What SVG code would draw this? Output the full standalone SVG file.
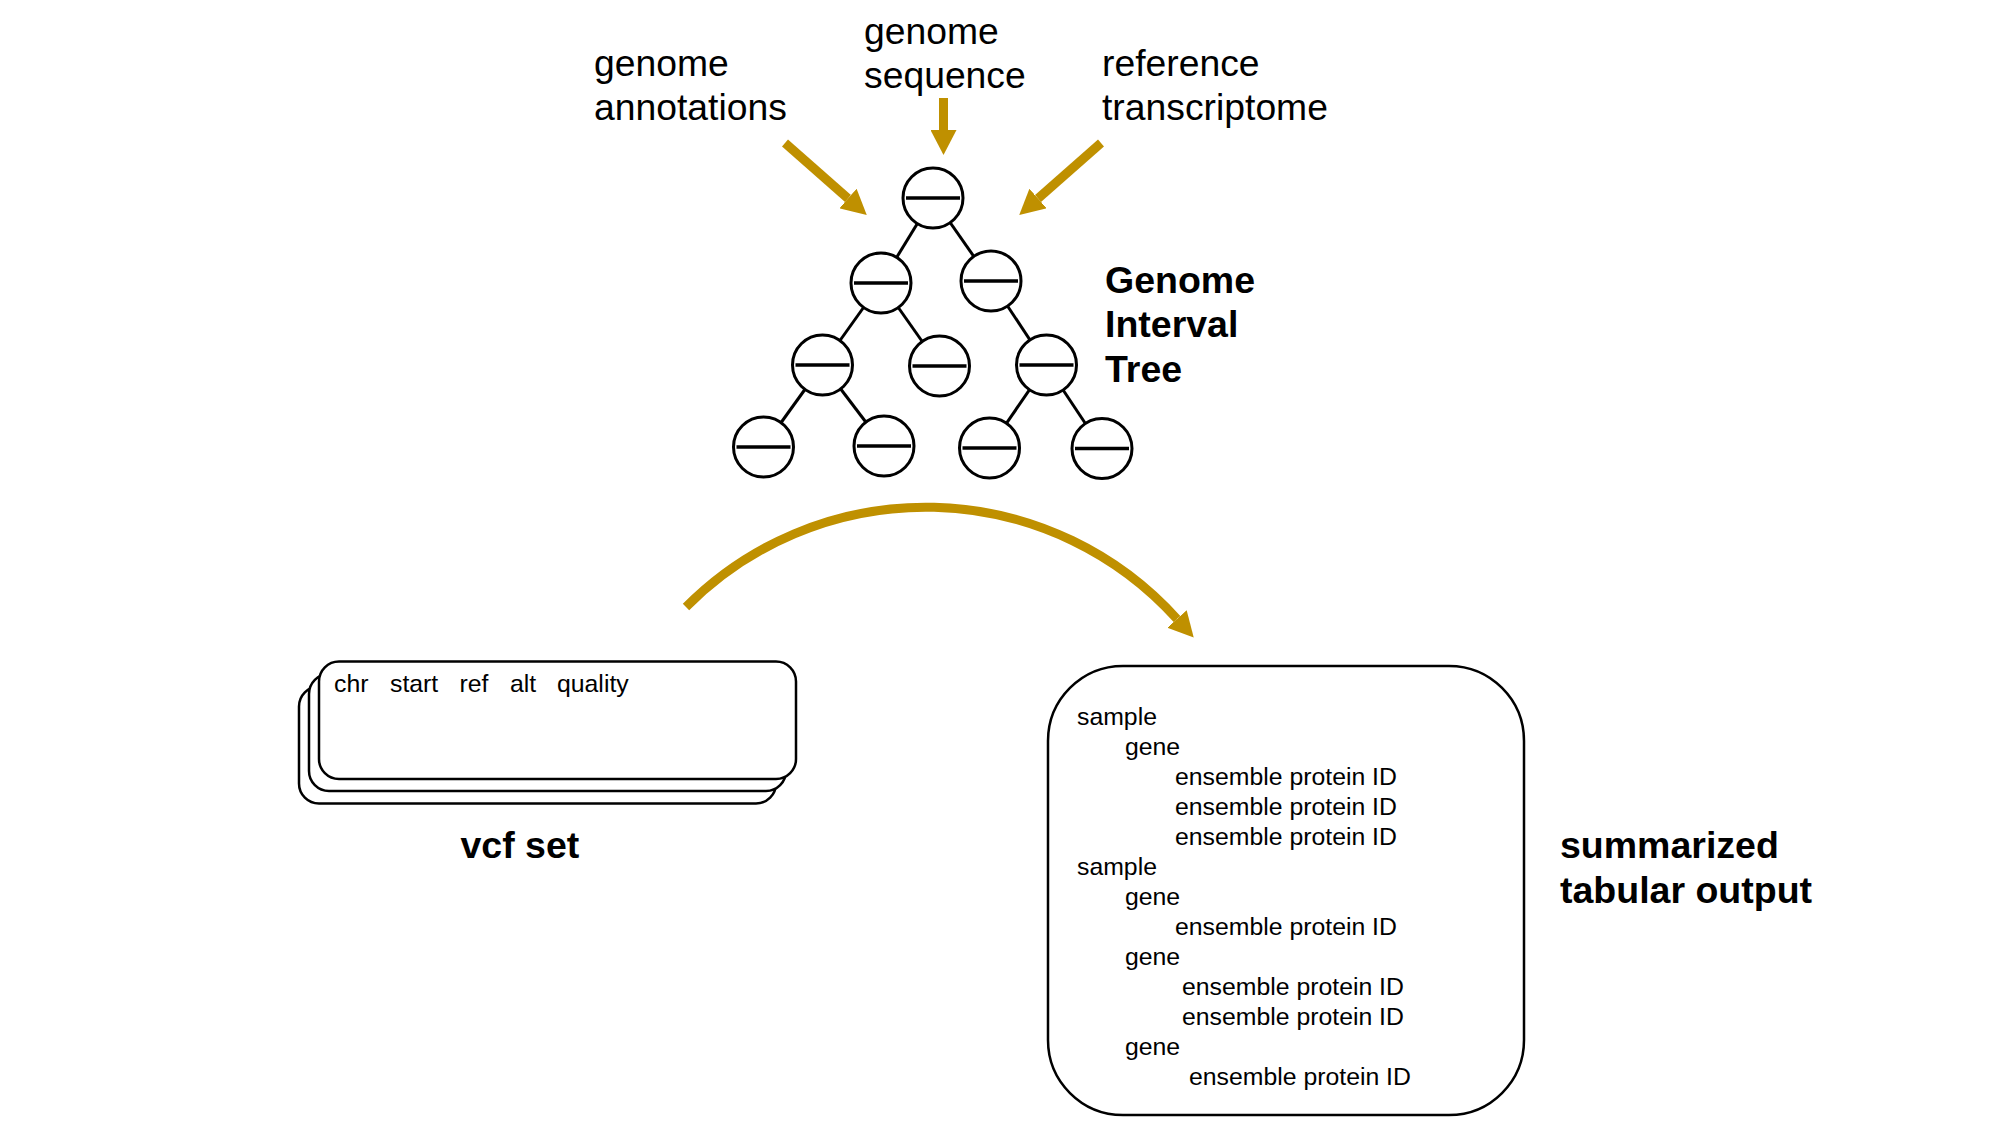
<svg xmlns="http://www.w3.org/2000/svg" width="2000" height="1125" viewBox="0 0 2000 1125">
  <defs>
    <style>
      .lbl { font-family: "Liberation Sans", Arial, Helvetica, sans-serif; font-size: 37.3px; fill: #000; }
      .bold { font-weight: bold; font-size: 37.5px; }
      .small { font-family: "Liberation Sans", Arial, Helvetica, sans-serif; font-size: 24.8px; fill: #000; }
      .gold { stroke: #BF9000; stroke-width: 9; fill: none; stroke-linecap: butt; }
      .edge { stroke: #000; stroke-width: 3; }
      .node circle { fill: #fff; stroke: #000; stroke-width: 3; }
      .node line { stroke: #000; stroke-width: 3.5; }
      .card { fill: #fff; stroke: #000; stroke-width: 2.5; }
    </style>
    <marker id="head" viewBox="0 0 25 26" markerWidth="25" markerHeight="26" refX="0" refY="13" orient="auto" markerUnits="userSpaceOnUse">
      <path d="M0,0 L25,13 L0,26 z" fill="#BF9000"/>
    </marker>
  </defs>
  <rect width="2000" height="1125" fill="#fff"/>

  <!-- input labels -->
  <g id="genome-annotations">
    <text class="lbl" x="594" y="76">genome</text>
    <text class="lbl" x="594" y="120">annotations</text>
  </g>
  <g id="genome-sequence">
    <text class="lbl" x="864" y="44">genome</text>
    <text class="lbl" x="864" y="88">sequence</text>
  </g>
  <g id="reference-transcriptome">
    <text class="lbl" x="1102" y="76">reference</text>
    <text class="lbl" x="1102" y="120">transcriptome</text>
  </g>

  <!-- connectors -->
  <g id="connectors">
    <line class="gold" x1="785" y1="143" x2="848" y2="198.5" marker-end="url(#head)"/>
    <line class="gold" x1="943.5" y1="98" x2="943.5" y2="130" marker-end="url(#head)"/>
    <line class="gold" x1="1101" y1="143" x2="1038" y2="198.5" marker-end="url(#head)"/>
    <path class="gold" d="M686,607 A338,338 0 0 1 1177,619" marker-end="url(#head)"/>
    <!-- tree edges -->
    <line class="edge" x1="933" y1="198" x2="881" y2="283"/>
    <line class="edge" x1="933" y1="198" x2="991" y2="281"/>
    <line class="edge" x1="881" y1="283" x2="822.5" y2="365"/>
    <line class="edge" x1="881" y1="283" x2="939.5" y2="366"/>
    <line class="edge" x1="991" y1="281" x2="1046.5" y2="365"/>
    <line class="edge" x1="822.5" y1="365" x2="763.5" y2="447"/>
    <line class="edge" x1="822.5" y1="365" x2="884" y2="446"/>
    <line class="edge" x1="1046.5" y1="365" x2="989.5" y2="448"/>
    <line class="edge" x1="1046.5" y1="365" x2="1102" y2="448.5"/>
  </g>

  <!-- interval tree nodes -->
  <g id="node-root" class="node"><circle cx="933" cy="198" r="30"/><line x1="906" y1="198" x2="960" y2="198"/></g>
  <g id="node-l1a" class="node"><circle cx="881" cy="283" r="30"/><line x1="854" y1="283" x2="908" y2="283"/></g>
  <g id="node-l1b" class="node"><circle cx="991" cy="281" r="30"/><line x1="964" y1="281" x2="1018" y2="281"/></g>
  <g id="node-l2a" class="node"><circle cx="822.5" cy="365" r="30"/><line x1="795.5" y1="365" x2="849.5" y2="365"/></g>
  <g id="node-l2b" class="node"><circle cx="939.5" cy="366" r="30"/><line x1="912.5" y1="366" x2="966.5" y2="366"/></g>
  <g id="node-l2c" class="node"><circle cx="1046.5" cy="365" r="30"/><line x1="1019.5" y1="365" x2="1073.5" y2="365"/></g>
  <g id="node-l3a" class="node"><circle cx="763.5" cy="447" r="30"/><line x1="736.5" y1="447" x2="790.5" y2="447"/></g>
  <g id="node-l3b" class="node"><circle cx="884" cy="446" r="30"/><line x1="857" y1="446" x2="911" y2="446"/></g>
  <g id="node-l3c" class="node"><circle cx="989.5" cy="448" r="30"/><line x1="962.5" y1="448" x2="1016.5" y2="448"/></g>
  <g id="node-l3d" class="node"><circle cx="1102" cy="448.5" r="30"/><line x1="1075" y1="448.5" x2="1129" y2="448.5"/></g>

  <g id="tree-label">
    <text class="lbl bold" x="1105" y="293">Genome</text>
    <text class="lbl bold" x="1105" y="337">Interval</text>
    <text class="lbl bold" x="1105" y="382">Tree</text>
  </g>

  <!-- stacked vcf files -->
  <g id="vcf-set">
    <rect class="card" x="299" y="686.5" width="477" height="117" rx="20"/>
    <rect class="card" x="309" y="674" width="477" height="117" rx="20"/>
    <rect class="card" x="319" y="661.5" width="477" height="117.5" rx="20"/>
    <text class="small" x="334" y="692">chr</text>
    <text class="small" x="390" y="692">start</text>
    <text class="small" x="459.5" y="692">ref</text>
    <text class="small" x="510" y="692">alt</text>
    <text class="small" x="557" y="692">quality</text>
    <text class="lbl bold" x="460.5" y="858">vcf set</text>
  </g>

  <!-- summarized output -->
  <g id="summary-output">
    <rect class="card" x="1048" y="666" width="476" height="449" rx="75"/>
    <text class="small" x="1077" y="724.5">sample</text>
    <text class="small" x="1125" y="754.5">gene</text>
    <text class="small" x="1175" y="784.5">ensemble protein ID</text>
    <text class="small" x="1175" y="814.5">ensemble protein ID</text>
    <text class="small" x="1175" y="844.5">ensemble protein ID</text>
    <text class="small" x="1077" y="874.5">sample</text>
    <text class="small" x="1125" y="904.5">gene</text>
    <text class="small" x="1175" y="934.5">ensemble protein ID</text>
    <text class="small" x="1125" y="964.5">gene</text>
    <text class="small" x="1182" y="994.5">ensemble protein ID</text>
    <text class="small" x="1182" y="1024.5">ensemble protein ID</text>
    <text class="small" x="1125" y="1054.5">gene</text>
    <text class="small" x="1189" y="1084.5">ensemble protein ID</text>
  </g>
  <g id="summary-label">
    <text class="lbl bold" x="1560" y="858">summarized</text>
    <text class="lbl bold" x="1560" y="903">tabular output</text>
  </g>
</svg>
